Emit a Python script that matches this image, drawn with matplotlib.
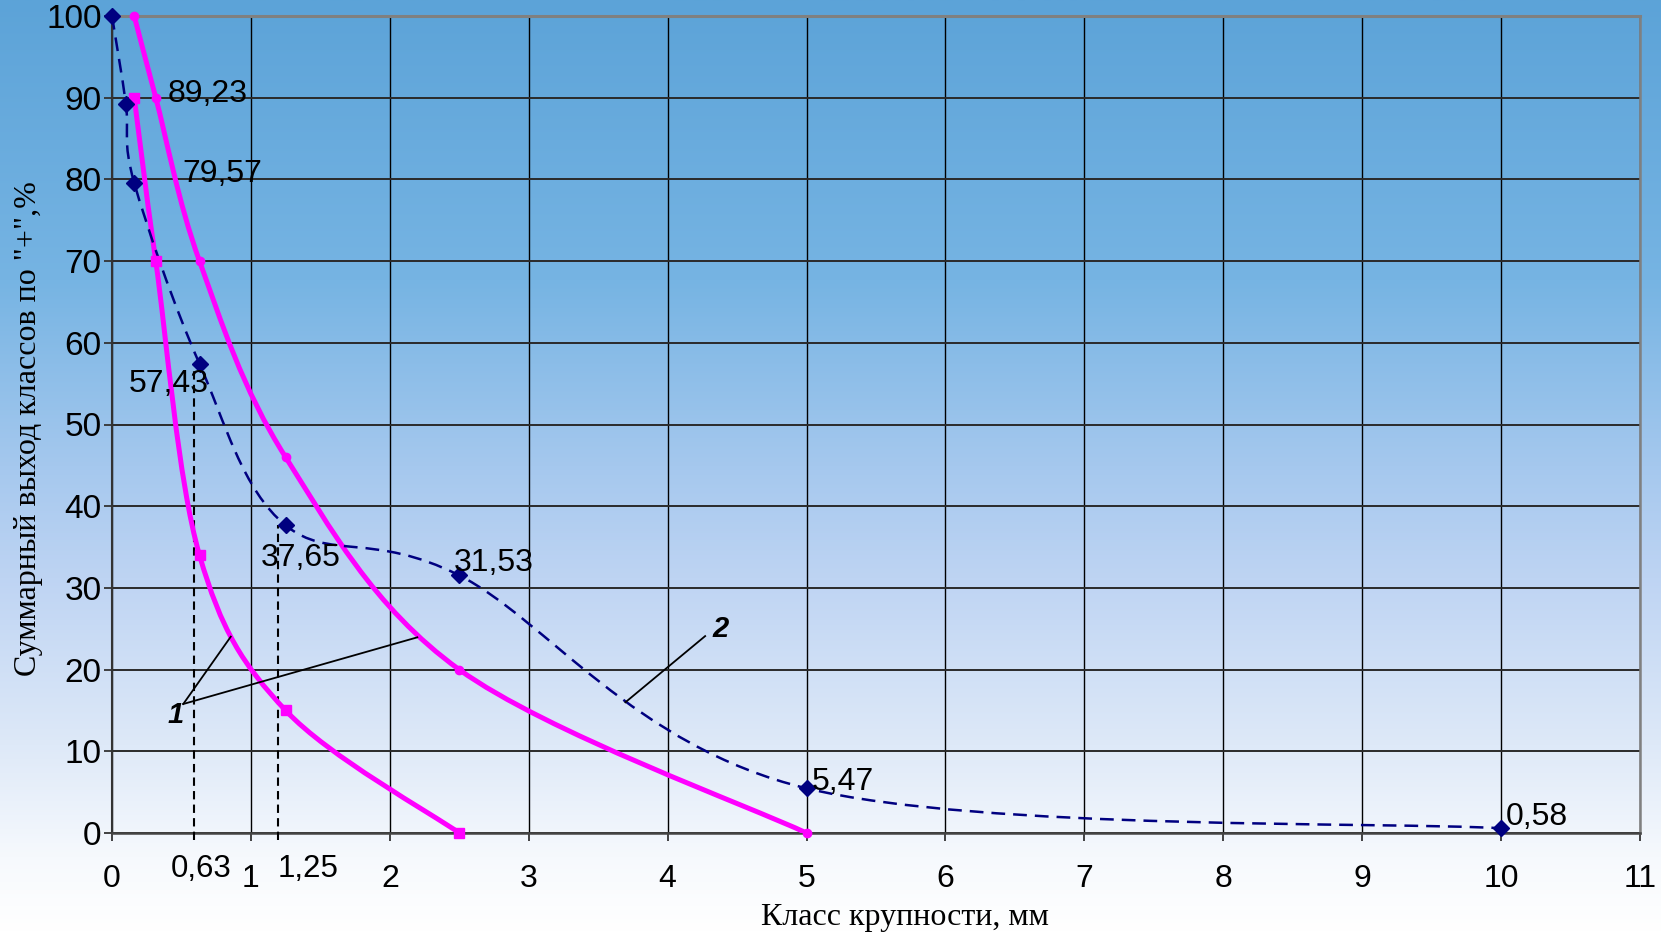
import numpy as np
import matplotlib
matplotlib.use("Agg")
import matplotlib.pyplot as plt
from matplotlib.path import Path
from matplotlib.patches import PathPatch

# ---------------- data ----------------
x_fine = [0.16, 0.315, 0.63, 1.25, 2.5]
y_fine = [90, 70, 34, 15, 0]

x_coarse = [0.16, 0.315, 0.63, 1.25, 2.5, 5]
y_coarse = [100, 90, 70, 46, 20, 0]

x_ore = [0, 0.1, 0.16, 0.63, 1.25, 2.5, 5, 10]
y_ore = [100, 89.23, 79.57, 57.43, 37.65, 31.53, 5.47, 0.58]

ore_labels = ["89,23", "79,57", "57,43", "37,65", "31,53", "5,47", "0,58"]
ore_label_x = [0.40, 0.51, 0.12, 1.07, 2.46, 5.04, 10.03]
ore_label_y = [90.5, 80.6, 55.0, 33.6, 33.0, 6.3, 2.0]

x_ticks = list(range(0, 12))
y_ticks = list(range(0, 101, 10))

guide_x = [0.59, 1.197]
guide_top = [57.43, 37.65]
guide_labels = ["0,63", "1,25"]
guide_label_x = [0.645, 1.41]

x_title = "Класс крупности, мм"
y_title = 'Суммарный выход классов по "+",%'

# ---------------- figure ----------------
W, H = 1661, 932
fig = plt.figure(figsize=(W / 100, H / 100), dpi=100)

# background gradient
bg = fig.add_axes([0, 0, 1, 1], zorder=-10)
stops = [(0.0, (92, 163, 216)), (0.3, (118, 180, 227)), (0.5, (165, 200, 238)),
         (0.62, (190, 212, 243)), (0.8, (222, 233, 248)), (0.92, (246, 249, 253)),
         (1.0, (255, 255, 255))]
t = np.linspace(0, 1, 600)
sp = [s[0] for s in stops]
cols = np.stack([np.interp(t, sp, [s[1][k] for s in stops]) for k in range(3)], axis=-1) / 255.0
bg.imshow(cols[:, None, :], aspect="auto", extent=[0, 1, 0, 1], interpolation="bilinear")
bg.set_axis_off()

left, right, top, bottom = 112, 1640, 16, 833
ax = fig.add_axes([left / W, 1 - bottom / H, (right - left) / W, (bottom - top) / H])
ax.set_facecolor("none")
ax.set_xlim(0, 11)
ax.set_ylim(0, 100)


def smooth_path(xs, ys):
    P = np.column_stack([xs, ys]).astype(float)
    n = len(P)
    verts = [P[0]]
    codes = [Path.MOVETO]
    for i in range(n - 1):
        p0 = P[i - 1] if i > 0 else P[i]
        p1 = P[i]
        p2 = P[i + 1]
        p3 = P[i + 2] if i + 2 < n else P[i + 1]
        c1 = p1 + (p2 - p0) / 6.0
        c2 = p2 - (p3 - p1) / 6.0
        verts += [c1, c2, p2]
        codes += [Path.CURVE4] * 3
    return Path(verts, codes)


pink = "#FF00FF"
navy = "#000080"

ax.add_patch(PathPatch(smooth_path(x_fine, y_fine), fill=False, edgecolor=pink, lw=3.6,
                       zorder=4, capstyle="round", joinstyle="round"))
ax.add_patch(PathPatch(smooth_path(x_coarse, y_coarse), fill=False, edgecolor=pink, lw=3.6,
                       zorder=4, capstyle="round", joinstyle="round"))
ax.add_patch(PathPatch(smooth_path(x_ore, y_ore), fill=False, edgecolor=navy, lw=1.8,
                       linestyle=(0, (5.5, 3.2)), zorder=5))

ax.plot(x_fine, y_fine, linestyle="none", marker="s", ms=6.5, color=pink, zorder=6, clip_on=False)
ax.plot(x_coarse, y_coarse, linestyle="none", marker="o", ms=6, color=pink, zorder=6, clip_on=False)
ax.plot(x_ore, y_ore, linestyle="none", marker="D", ms=8, color=navy, zorder=7, clip_on=False)

# guide lines
for gx, gt in zip(guide_x, guide_top):
    ax.plot([gx, gx], [-0.9, gt], color="black", lw=1.5, linestyle=(0, (4, 2.5)),
            zorder=3, clip_on=False)

txt_font = ["Liberation Sans", "DejaVu Sans"]
serif_font = ["Liberation Serif", "DejaVu Serif"]
for lab, lx, ly in zip(ore_labels, ore_label_x, ore_label_y):
    ax.text(lx, ly, lab, fontsize=23, family=txt_font, ha="left", va="center", zorder=8)

for lab, lx in zip(guide_labels, guide_label_x):
    ax.text(lx, -0.0435, lab, fontsize=22.5, family=txt_font, ha="center", va="center",
            transform=ax.get_xaxis_transform(), clip_on=False)

# curve markers "1" and "2"
ax.text(0.457, 14.4, "1", fontsize=21, family=txt_font, fontweight="bold", fontstyle="italic",
        ha="center", va="center", zorder=8)
ax.plot([0.513, 0.855], [15.79, 24.03], color="black", lw=1.3, zorder=8)
ax.plot([0.513, 2.198], [15.79, 23.95], color="black", lw=1.3, zorder=8)
ax.text(4.38, 25.0, "2", fontsize=21, family=txt_font, fontweight="bold", fontstyle="italic",
        ha="center", va="center", zorder=8)
ax.plot([4.27, 3.696], [24.1, 16.0], color="black", lw=1.3, zorder=8)

# grid
ax.set_axisbelow(True)
ax.set_xticks(x_ticks)
ax.set_yticks(y_ticks)
ax.xaxis.grid(True, color="black", lw=1.0)
ax.yaxis.grid(True, color="#2a2a2a", lw=1.4)

# spines
ax.spines["top"].set_color("#808080")
ax.spines["top"].set_linewidth(2.2)
ax.spines["right"].set_color("#808080")
ax.spines["right"].set_linewidth(1.8)
ax.spines["left"].set_color("#333333")
ax.spines["left"].set_linewidth(1.5)
ax.spines["bottom"].set_color("#444444")
ax.spines["bottom"].set_linewidth(1.8)

ax.tick_params(axis="y", direction="out", length=6, width=1.3, color="#333333", pad=1.5,
               labelsize=24)
ax.tick_params(axis="x", direction="out", length=6, width=1.3, color="#333333", pad=16,
               labelsize=23)
for lab in ax.get_xticklabels() + ax.get_yticklabels():
    lab.set_family(txt_font)

fig.text(905 / W, 1 - 918 / H, x_title, fontsize=23, family=serif_font,
         ha="center", va="center")
fig.text(29 / W, 1 - 429 / H, y_title, fontsize=23, family=serif_font,
         ha="center", va="center", rotation=90)

fig.savefig("out.png", dpi=100)
